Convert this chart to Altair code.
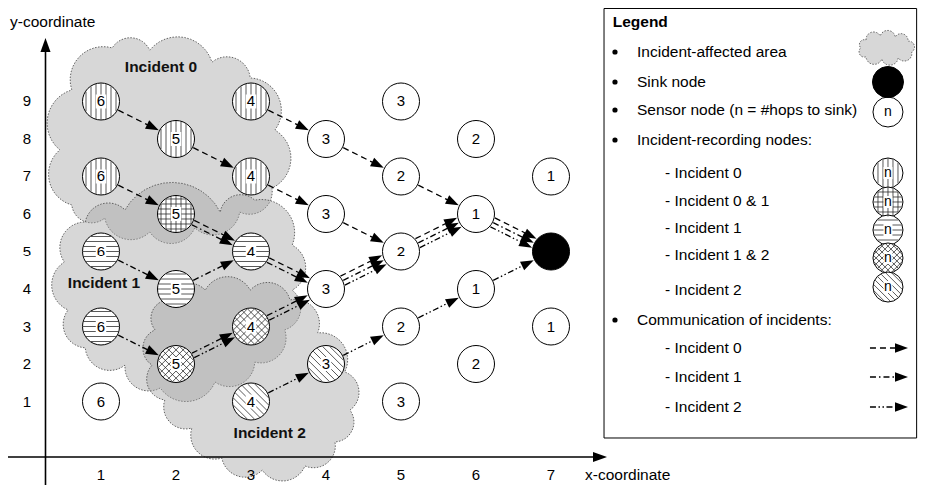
import math
import altair as alt
import pandas as pd

# ---------------- chart frame ----------------
W, H = 910, 477
X0, X1 = -0.24, 11.893333
Y0, Y1 = -1.226667, 11.493333
PX_X = W / (X1 - X0)   # pixels per x unit
PX_Y = H / (Y1 - Y0)   # pixels per y unit
FONT = "Liberation Sans"

xs = alt.Scale(domain=[X0, X1], nice=False, zero=False)
ys = alt.Scale(domain=[Y0, Y1], nice=False, zero=False)


def X(f):
    return alt.X(f, type="quantitative", scale=xs, axis=None)


def Y(f):
    return alt.Y(f, type="quantitative", scale=ys, axis=None)


# ---------------- data ----------------
node_x = [1, 1, 1, 1, 1, 2, 2, 2, 2, 3, 3, 3, 3, 3, 4, 4, 4, 4, 5, 5, 5, 5, 5, 6, 6, 6, 6, 7, 7]
node_y = [9, 7, 5, 3, 1, 8, 6, 4, 2, 9, 7, 5, 3, 1, 8, 6, 4, 2, 9, 7, 5, 3, 1, 8, 6, 4, 2, 7, 3]
node_hops = [6, 6, 6, 6, 6, 5, 5, 5, 5, 4, 4, 4, 4, 4, 3, 3, 3, 3, 3, 2, 2, 2, 3, 2, 1, 1, 2, 1, 1]
node_hatch = ["v", "v", "h", "h", "", "v", "g", "h", "x", "v", "v", "h", "x", "d",
              "", "", "", "d", "", "", "", "", "", "", "", "", "", "", ""]
sink_x = [7]
sink_y = [5]

inc0_src_x = [1, 2, 3, 3, 4, 5, 4, 1, 2, 3, 4, 5, 6]
inc0_src_y = [9, 8, 9, 7, 8, 7, 6, 7, 6, 5, 4, 5, 6]
inc0_dst_x = [2, 3, 4, 4, 5, 6, 5, 2, 3, 4, 5, 6, 7]
inc0_dst_y = [8, 7, 8, 6, 7, 6, 5, 6, 5, 4, 5, 6, 5]

inc1_src_x = [1, 2, 2, 3, 4, 5, 6, 1, 2, 3]
inc1_src_y = [5, 4, 6, 5, 4, 5, 6, 3, 2, 3]
inc1_dst_x = [2, 3, 3, 4, 5, 6, 7, 2, 3, 4]
inc1_dst_y = [4, 5, 5, 4, 5, 6, 5, 2, 3, 4]

inc2_src_x = [3, 4, 5, 6, 2, 3, 4, 5, 6]
inc2_src_y = [1, 2, 3, 4, 2, 3, 4, 5, 6]
inc2_dst_x = [4, 5, 6, 7, 3, 4, 5, 6, 7]
inc2_dst_y = [2, 3, 4, 5, 3, 4, 5, 6, 5]

# incident-affected areas (valleys between the cloud bumps, in axis units)
cloud0_x = [0.61, 1.15, 1.65, 2.48, 2.99, 3.32, 3.28, 2.85, 2.25, 1.65, 1.05, 0.61, 0.45]
cloud0_y = [9.31, 10.43, 10.37, 10.05, 9.63, 8.24, 6.69, 6.05, 5.63, 5.52, 5.89, 6.24, 7.71]
cloud1_x = [0.79, 1.32, 2.59, 3.05, 3.55, 3.55, 3.45, 3.05, 2.52, 1.79, 1.32, 0.79, 0.56, 0.51]
cloud1_y = [5.79, 6.11, 6.05, 6.37, 5.17, 3.97, 2.91, 2.05, 1.52, 1.36, 1.97, 2.43, 3.44, 4.72]
cloud2_x = [1.89, 2.39, 2.99, 3.52, 3.89, 4.25, 4.32, 4.12, 3.72, 3.15, 2.61, 2.21, 1.85, 1.68, 1.72]
cloud2_y = [3.71, 3.97, 3.97, 3.71, 2.83, 1.79, 0.77, -0.08, -0.72, -0.83, -0.51, 0.29, 1.04, 1.97, 2.91]
legend_cloud_x = [11.2, 11.39, 11.59, 11.76, 11.81, 11.63, 11.41, 11.2, 11.13]
legend_cloud_y = [10.64, 10.75, 10.72, 10.61, 10.32, 10.16, 10.13, 10.19, 10.43]

cloud_label = ["Incident 0", "Incident 1", "Incident 2"]
cloud_label_x = [1.8, 1.04, 3.25]
cloud_label_y = [9.92, 4.16, 0.16]

x_ticks = [1, 2, 3, 4, 5, 6, 7]
y_ticks = [1, 2, 3, 4, 5, 6, 7, 8, 9]
x_title = "x-coordinate"
y_title = "y-coordinate"

legend_title = "Legend"
legend_text = ["Incident-affected area", "Sink node", "Sensor node (n = #hops to sink)",
               "Incident-recording nodes:", "- Incident 0", "- Incident 0 & 1", "- Incident 1",
               "- Incident 1 & 2", "- Incident 2", "Communication of incidents:",
               "- Incident 0", "- Incident 1", "- Incident 2"]
legend_level = [0, 0, 0, 0, 1, 1, 1, 1, 1, 0, 1, 1, 1]
legend_text_y = [10.32, 9.52, 8.773, 7.973, 7.093, 6.347, 5.627, 4.907, 3.973, 3.173, 2.427, 1.653, 0.853]
legend_icon_kind = ["v", "g", "h", "x", "d"]
legend_icon_y = [7.093, 6.32, 5.573, 4.827, 4.053]
legend_arrow_y = [2.427, 1.653, 0.853]
legend_arrow_inc = [0, 1, 2]

# ---------------- styles / geometry helpers ----------------
R_NODE = 18.5
R_ICON = 15
HEAD = 13
SP = 5
DASH = {0: [6, 4], 1: [6, 3, 1.5, 3], 2: [6, 2.5, 1.5, 2.5, 1.5, 2.5]}
ARROW_PATH = "M0,0L-2,-0.72L-2,0.72Z"
BOX_PATH = "M-0.75,-1L0.75,-1L0.75,1L-0.75,1Z"


def circ(r):
    # Vega circle symbols use radius = sqrt(size) / 2
    return (2 * r) ** 2


def cloud_ring(cxs, cys, bulge=0.3, steps=12):
    k = PX_X / PX_Y
    pts = [(x * k, y) for x, y in zip(cxs, cys)]
    mx0 = sum(p[0] for p in pts) / len(pts)
    my0 = sum(p[1] for p in pts) / len(pts)
    ring = []
    n = len(pts)
    for i in range(n):
        p, q = pts[i], pts[(i + 1) % n]
        mx, my = (p[0] + q[0]) / 2, (p[1] + q[1]) / 2
        dx, dy = q[0] - p[0], q[1] - p[1]
        c = math.hypot(dx, dy)
        nx, ny = -dy / c, dx / c
        if nx * (mx - mx0) + ny * (my - my0) < 0:
            nx, ny = -nx, -ny
        h = bulge * c
        R = (c * c / 4 + h * h) / (2 * h)
        ox, oy = mx - nx * (R - h), my - ny * (R - h)
        a0 = math.atan2(p[1] - oy, p[0] - ox)
        a1 = math.atan2(q[1] - oy, q[0] - ox)
        da = a1 - a0
        while da > math.pi:
            da -= 2 * math.pi
        while da < -math.pi:
            da += 2 * math.pi
        for s in range(steps):
            a = a0 + da * s / steps
            ring.append([ox + R * math.cos(a), oy + R * math.sin(a)])
    ring.append(ring[0])
    return ring


def hatch_segments(cx, cy, kind, r, sp):
    s2 = math.sqrt(0.5)
    dirs = {"v": [(0.0, 1.0)], "h": [(1.0, 0.0)], "g": [(0.0, 1.0), (1.0, 0.0)],
            "d": [(s2, s2)], "x": [(s2, s2), (s2, -s2)]}
    out = []
    for dx, dy in dirs.get(kind, []):
        nx, ny = -dy, dx
        k = int(r // sp)
        for i in range(-k, k + 1):
            o = i * sp
            if abs(o) >= r - 1:
                continue
            hl = math.sqrt(r * r - o * o)
            ax, ay = o * nx - hl * dx, o * ny - hl * dy
            bx, by = o * nx + hl * dx, o * ny + hl * dy
            out.append(dict(x1=cx + ax / PX_X, y1=cy - ay / PX_Y,
                            x2=cx + bx / PX_X, y2=cy - by / PX_Y))
    return out


# ---------------- arrows ----------------
edges = []
for inc, (sx_, sy_, dx_, dy_) in enumerate([(inc0_src_x, inc0_src_y, inc0_dst_x, inc0_dst_y),
                                            (inc1_src_x, inc1_src_y, inc1_dst_x, inc1_dst_y),
                                            (inc2_src_x, inc2_src_y, inc2_dst_x, inc2_dst_y)]):
    for a, b, c, d in zip(sx_, sy_, dx_, dy_):
        edges.append((inc, a, b, c, d))

groups = {}
for inc, a, b, c, d in edges:
    groups.setdefault((a, b, c, d), []).append(inc)

line_rows = []
head_rows = []
for (a, b, c, d), incs in groups.items():
    incs = sorted(incs)
    k = len(incs)
    vx, vy = (c - a) * PX_X, -(d - b) * PX_Y
    L = math.hypot(vx, vy)
    ux, uy = vx / L, vy / L
    nx, ny = uy, -ux
    ang = math.degrees(math.atan2(uy, ux)) % 360
    for i, inc in enumerate(incs):
        off = (k - 1) / 2 * SP - i * SP
        rr = R_NODE + 0.8
        along = math.sqrt(rr * rr - off * off)
        spx, spy = ux * along + nx * off, uy * along + ny * off
        tpx, tpy = -ux * along + nx * off, -uy * along + ny * off
        epx, epy = tpx - ux * (HEAD - 3), tpy - uy * (HEAD - 3)
        line_rows.append(dict(inc=inc, x1=a + spx / PX_X, y1=b - spy / PX_Y,
                              x2=c + epx / PX_X, y2=d - epy / PX_Y))
        head_rows.append(dict(x=c + tpx / PX_X, y=d - tpy / PX_Y, ang=ang))

for yv, inc in zip(legend_arrow_y, legend_arrow_inc):
    x_tip = 11.76
    x_start = 11.253
    line_rows.append(dict(inc=inc, x1=x_start, y1=yv, x2=x_tip - (HEAD - 3) / PX_X, y2=yv))
    head_rows.append(dict(x=x_tip, y=yv, ang=0.0))

lines_df = pd.DataFrame(line_rows)
heads_df = pd.DataFrame(head_rows)

# ---------------- nodes ----------------
nodes_df = pd.DataFrame(dict(x=node_x, y=node_y, hops=[str(h) for h in node_hops], hatch=node_hatch))
hatched_df = nodes_df[nodes_df["hatch"] != ""]

hatch_rows = []
for x, y, kd in zip(node_x, node_y, node_hatch):
    hatch_rows += hatch_segments(x, y, kd, R_NODE - 0.5, SP)
hatch_df = pd.DataFrame(hatch_rows)

LEG_X = 11.493
icon_hatch_rows = []
for yv, kd in zip(legend_icon_y, legend_icon_kind):
    icon_hatch_rows += hatch_segments(LEG_X, yv, kd, R_ICON - 0.5, SP if kd in "vhg" else 4.2)
icon_hatch_df = pd.DataFrame(icon_hatch_rows)

# ---------------- layers ----------------
layers = []

# legend frame first, so that everything drawn inside it stays visible
layers.append(alt.Chart(pd.DataFrame([dict(x1=7.707, x2=11.875, y1=0.027, y2=11.48)])).mark_rect(
    fill="white", stroke="black", strokeWidth=1
).encode(x=X("x1"), x2="x2:Q", y=Y("y1"), y2="y2:Q"))

features = []
for i, (cx_, cy_, b) in enumerate([(cloud0_x, cloud0_y, 0.3), (cloud1_x, cloud1_y, 0.3),
                                   (cloud2_x, cloud2_y, 0.3), (legend_cloud_x, legend_cloud_y, 0.4)]):
    features.append({"type": "Feature", "properties": {"id": i},
                     "geometry": {"type": "Polygon", "coordinates": [cloud_ring(cx_, cy_, b)]}})
clouds = alt.Chart(alt.Data(values=features)).mark_geoshape(
    fill="#a6a6a6", fillOpacity=0.45, stroke="#555555", strokeWidth=0.9, strokeDash=[1.5, 1.5]
).project(type="identity", scale=PX_Y, translate=[-X0 * PX_X, Y1 * PX_Y], reflectY=True)
layers.append(clouds)

# arrows
for inc in (0, 1, 2):
    layers.append(alt.Chart(lines_df[lines_df["inc"] == inc]).mark_rule(
        color="black", strokeWidth=1.3, strokeDash=DASH[inc]
    ).encode(x=X("x1"), y=Y("y1"), x2="x2:Q", y2="y2:Q"))
layers.append(alt.Chart(heads_df).mark_point(
    shape=ARROW_PATH, filled=True, fill="black", size=HEAD * HEAD, opacity=1, strokeWidth=0
).encode(x=X("x"), y=Y("y"), angle=alt.Angle("ang:Q", scale=None)))

# nodes
layers.append(alt.Chart(nodes_df).mark_point(
    shape="circle", filled=True, fill="white", stroke="black", strokeWidth=1, size=circ(R_NODE), opacity=1
).encode(x=X("x"), y=Y("y")))
layers.append(alt.Chart(hatch_df).mark_rule(color="#222222", strokeWidth=0.75).encode(
    x=X("x1"), y=Y("y1"), x2="x2:Q", y2="y2:Q"))
layers.append(alt.Chart(hatched_df).mark_point(
    shape=BOX_PATH, filled=True, fill="white", size=14 * 14, opacity=1, strokeWidth=0
).encode(x=X("x"), y=Y("y")))
layers.append(alt.Chart(nodes_df).mark_text(
    font=FONT, fontSize=15, align="center", baseline="middle", color="black"
).encode(x=X("x"), y=Y("y"), text="hops:N"))
layers.append(alt.Chart(pd.DataFrame(dict(x=sink_x, y=sink_y))).mark_point(
    shape="circle", filled=True, fill="black", stroke="black", strokeWidth=1, size=circ(R_NODE), opacity=1
).encode(x=X("x"), y=Y("y")))

# cloud labels
layers.append(alt.Chart(pd.DataFrame(dict(x=cloud_label_x, y=cloud_label_y, t=cloud_label))).mark_text(
    font=FONT, fontSize=15.5, fontWeight="bold", align="center", baseline="middle", color="#111111"
).encode(x=X("x"), y=Y("y"), text="t:N"))

# axes
AX_Y = -0.48
AX_X = 0.26
X_TIP = 7.747
Y_TIP = 10.69
axis_df = pd.DataFrame([
    dict(x1=X0, y1=AX_Y, x2=X_TIP - 11 / PX_X, y2=AX_Y),
    dict(x1=AX_X, y1=Y0, x2=AX_X, y2=Y_TIP - 11 / PX_Y),
])
layers.append(alt.Chart(axis_df).mark_rule(color="black", strokeWidth=1.6).encode(
    x=X("x1"), y=Y("y1"), x2="x2:Q", y2="y2:Q"))
layers.append(alt.Chart(pd.DataFrame(dict(x=[X_TIP, AX_X], y=[AX_Y, Y_TIP], ang=[0.0, 270.0]))).mark_point(
    shape=ARROW_PATH, filled=True, fill="black", size=14 * 14, opacity=1, strokeWidth=0
).encode(x=X("x"), y=Y("y"), angle=alt.Angle("ang:Q", scale=None)))
tick_df = pd.DataFrame(
    [dict(x=v, y=-0.96, t=str(v)) for v in x_ticks] + [dict(x=0.013, y=v, t=str(v)) for v in y_ticks])
layers.append(alt.Chart(tick_df).mark_text(
    font=FONT, fontSize=15, align="center", baseline="middle", color="black"
).encode(x=X("x"), y=Y("y"), text="t:N"))
layers.append(alt.Chart(pd.DataFrame(dict(x=[7.453, -0.213], y=[-0.96, 11.12], t=[x_title, y_title]))).mark_text(
    font=FONT, fontSize=15.5, align="left", baseline="middle", color="black"
).encode(x=X("x"), y=Y("y"), text="t:N"))

# legend content
layers.append(alt.Chart(pd.DataFrame(dict(x=[7.823], y=[11.128], t=[legend_title]))).mark_text(
    font=FONT, fontSize=15.5, fontWeight="bold", align="left", baseline="middle", color="black"
).encode(x=X("x"), y=Y("y"), text="t:N"))
leg_df = pd.DataFrame(dict(t=legend_text, y=legend_text_y,
                           x=[8.147 if lv == 0 else 8.52 for lv in legend_level]))
layers.append(alt.Chart(leg_df).mark_text(
    font=FONT, fontSize=15.5, align="left", baseline="middle", color="black"
).encode(x=X("x"), y=Y("y"), text="t:N"))
bul_df = pd.DataFrame(dict(x=[7.853] * 5, y=[legend_text_y[i] for i, lv in enumerate(legend_level) if lv == 0]))
layers.append(alt.Chart(bul_df).mark_point(
    shape="circle", filled=True, fill="black", size=circ(2.6), opacity=1, strokeWidth=0
).encode(x=X("x"), y=Y("y")))

legend_nodes = pd.DataFrame(dict(x=[LEG_X] * 6, y=[8.72] + legend_icon_y, t=["n"] * 6))
layers.append(alt.Chart(legend_nodes).mark_point(
    shape="circle", filled=True, fill="white", stroke="black", strokeWidth=1, size=circ(R_ICON), opacity=1
).encode(x=X("x"), y=Y("y")))
layers.append(alt.Chart(pd.DataFrame(dict(x=[LEG_X], y=[9.52]))).mark_point(
    shape="circle", filled=True, fill="black", stroke="black", strokeWidth=1, size=circ(15.5), opacity=1
).encode(x=X("x"), y=Y("y")))
layers.append(alt.Chart(icon_hatch_df).mark_rule(color="#222222", strokeWidth=0.75).encode(
    x=X("x1"), y=Y("y1"), x2="x2:Q", y2="y2:Q"))
layers.append(alt.Chart(legend_nodes.iloc[1:]).mark_point(
    shape=BOX_PATH, filled=True, fill="white", size=12 * 12, opacity=1, strokeWidth=0
).encode(x=X("x"), y=Y("y")))
layers.append(alt.Chart(legend_nodes).mark_text(
    font=FONT, fontSize=14, align="center", baseline="middle", color="black"
).encode(x=X("x"), y=Y("y"), text="t:N"))

chart = alt.layer(*layers).properties(
    width=W, height=H, padding=0, autosize=alt.AutoSizeParams(type="none")
).configure_view(strokeWidth=0)

chart.save("out.html", embed_options={"renderer": "svg", "actions": False})
